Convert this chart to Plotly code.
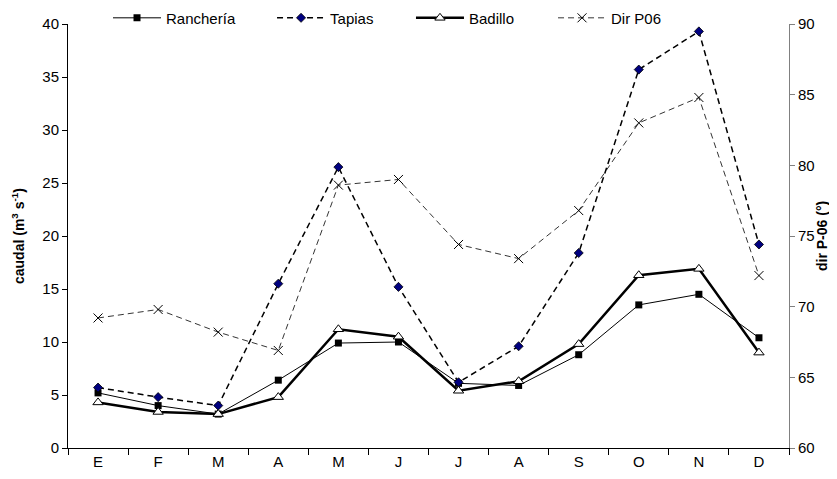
import plotly.graph_objects as go

months = ["E", "F", "M", "A", "M", "J", "J", "A", "S", "O", "N", "D"]
rancheria = [5.2, 4.0, 3.2, 6.4, 9.9, 10.0, 6.1, 5.9, 8.8, 13.5, 14.5, 10.4]
tapias = [5.7, 4.8, 4.0, 15.5, 26.5, 15.2, 6.2, 9.6, 18.4, 35.7, 39.3, 19.2]
badillo = [4.3, 3.4, 3.2, 4.8, 11.2, 10.5, 5.4, 6.3, 9.8, 16.3, 16.9, 9.0]
dir_p06 = [69.2, 69.8, 68.2, 66.9, 78.6, 79.0, 74.4, 73.4, 76.8, 83.0, 84.8, 72.2]

x = list(range(len(months)))

fig = go.Figure()
fig.add_trace(go.Scatter(
    x=x, y=rancheria, name="Ranchería", mode="lines+markers", legend="legend",
    line=dict(color="black", width=1),
    marker=dict(symbol="square", size=7, color="black"),
))
fig.add_trace(go.Scatter(
    x=x, y=tapias, name="Tapias", mode="lines+markers", legend="legend2",
    line=dict(color="black", width=1.5, dash="6px,4px"),
    marker=dict(symbol="diamond", size=7, color="#000080", line=dict(color="black", width=0.8)),
))
fig.add_trace(go.Scatter(
    x=x, y=badillo, name="Badillo", mode="lines+markers", legend="legend3",
    line=dict(color="black", width=2.5),
    marker=dict(symbol="triangle-up", size=9, color="white", line=dict(color="black", width=1)),
))
fig.add_trace(go.Scatter(
    x=x, y=dir_p06, name="Dir P06", mode="lines+markers", yaxis="y2", legend="legend4",
    line=dict(color="black", width=0.8, dash="6px,4px"),
    marker=dict(symbol="x-thin", size=9, color="black", line=dict(color="black", width=1)),
))

FONT = "Liberation Sans, Arial, sans-serif"

def leg(xpos):
    return dict(orientation="h", x=xpos, xanchor="left", y=1.014, yanchor="middle",
                font=dict(size=15, family=FONT), bgcolor="rgba(0,0,0,0)", itemwidth=48)

fig.update_layout(
    width=829, height=471,
    margin=dict(l=60, r=48, t=16, b=31, autoexpand=False),
    paper_bgcolor="white", plot_bgcolor="white",
    font=dict(family=FONT, size=15, color="black"),
    showlegend=True,
    legend=leg(0.0555), legend2=leg(0.283), legend3=leg(0.4757), legend4=leg(0.6727),
    xaxis=dict(
        range=[-0.5, 11.5], tickvals=x, ticktext=months, ticks="", showgrid=False,
        showline=True, linecolor="black", linewidth=1, zeroline=False,
        minor=dict(tick0=-0.5, dtick=1, ticks="outside", ticklen=6, tickcolor="black", showgrid=False),
        tickfont=dict(size=15), automargin=False,
    ),
    yaxis=dict(
        range=[0, 40], dtick=5, ticks="outside", ticklen=5, tickcolor="black",
        showgrid=False, showline=True, linecolor="black", linewidth=1, zeroline=False,
        tickfont=dict(size=15), automargin=False,
    ),
    yaxis2=dict(
        range=[60, 90], dtick=5, overlaying="y", side="right", ticks="outside", ticklen=5,
        tickcolor="gray", showgrid=False, showline=True, linecolor="gray", linewidth=1,
        zeroline=False, tickfont=dict(size=15), automargin=False,
    ),
    annotations=[
        dict(text="<b>caudal (m<sup>3</sup> s<sup>-1</sup>)</b>", xref="paper", yref="paper",
             x=0, xshift=-50, y=0.5, textangle=-90, showarrow=False,
             font=dict(size=14, family=FONT), xanchor="center", yanchor="middle"),
        dict(text="<b>dir P-06 (°)</b>", xref="paper", yref="paper",
             x=1, xshift=33, y=0.5, textangle=-90, showarrow=False,
             font=dict(size=14, family=FONT), xanchor="center", yanchor="middle"),
    ],
)

fig.write_html("out.html")
